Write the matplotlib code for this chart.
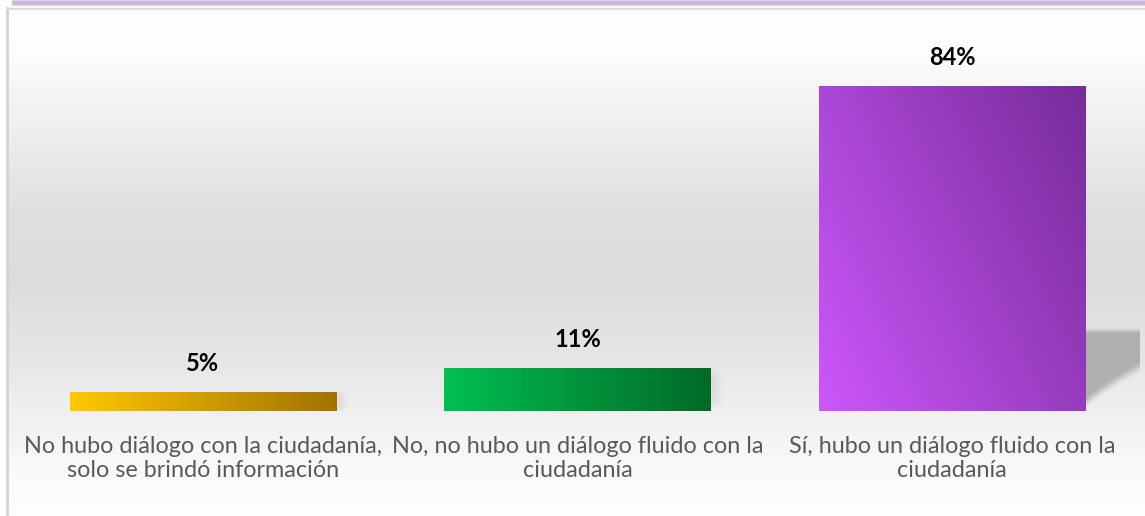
import numpy as np
import matplotlib.pyplot as plt
from matplotlib.colors import LinearSegmentedColormap

categories = ["No hubo diálogo con la ciudadanía,\nsolo se brindó información",
              "No, no hubo un diálogo fluido con la\nciudadanía",
              "Sí, hubo un diálogo fluido con la\nciudadanía"]
values = [5, 11, 84]
value_labels = ["5%", "11%", "84%"]
# (light, dark) ends of each bar gradient
bar_colors = [("#ffc800", "#a27300"),
              ("#00c052", "#006a27"),
              ("#cc57fb", "#772c99")]

W, H = 1145, 516
fig = plt.figure(figsize=(W / 100, H / 100), dpi=100)


def smooth(t):
    t = np.clip(t, 0, 1)
    return t * t * (3 - 2 * t)


# background: white -> gray -> white, with frame and purple top strip
bg = fig.add_axes([0, 0, 1, 1])
bg.set_xlim(0, W)
bg.set_ylim(H, 0)
bg.axis("off")
ys = np.linspace(0, 1, 400)
prof = np.interp(8 + ys * (H - 8), [8, 50, 100, 170, 210, 280, 340, 420, 480, 516],
                 [1.0, 0.995, 0.955, 0.905, 0.875, 0.865, 0.89, 0.945, 0.985, 0.995])
img = np.repeat(prof[:, None], 2, axis=1)
bg.imshow(np.dstack([img, img, img]), extent=[7, W, H, 8], aspect="auto",
          interpolation="bilinear", zorder=0)
strip = np.linspace(0, 1, 8)
scol = np.array([0.80, 0.70, 0.87])
sprof = 1 - (1 - scol)[None, :] * np.sin(np.pi * strip)[:, None] ** 0.6
bg.imshow(sprof[:, None, :], extent=[12, W, 7.5, 0], aspect="auto",
          interpolation="bilinear", zorder=1)
bg.plot([6.5, 6.5], [8, H], color="#d2d2d2", lw=2, zorder=2)
bg.plot([6.5, W], [8.5, 8.5], color="#dcdcdc", lw=1.5, zorder=2)

# main axes: centers at 203, 578, 952 px; baseline at y=411 px
x0 = 15.5
ax = fig.add_axes([x0 / W, 105 / H, 1124 / W, 387 / H])
ax.patch.set_alpha(0)
ax.set_xlim(-0.5, 2.5)
ax.set_ylim(0, 100)
ax.axis("off")

x = np.arange(len(categories))
bars = ax.bar(x, values, width=0.71, color="none", zorder=3)

for i, (b, (c_light, c_dark)) in enumerate(zip(bars, bar_colors)):
    bx, by = b.get_x(), b.get_y()
    bw, bh = b.get_width(), b.get_height()
    cmap = LinearSegmentedColormap.from_list("g%d" % i, [c_light, c_dark])
    gx, gy = np.meshgrid(np.linspace(0, 1, 200), np.linspace(0, 1, 200))
    if i == 2:
        grad = 0.75 * gx + 0.45 * gy
        grad = grad / grad.max()
        # soft perspective shadow to the right of the tall bar
        sw, shh = 0.155, 21.5
        u, v = np.meshgrid(np.linspace(0, 1, 120), np.linspace(0, 1, 120))
        edge = 0.47 * u ** 0.85
        a = smooth((v - edge) / 0.16) * smooth((1 - v) / 0.08) * smooth((1 - u) / 0.04)
        a = 0.88 * a
        sh = np.full_like(u, 0.66)
        ax.imshow(np.dstack([sh, sh, sh, a]), extent=[bx + bw, bx + bw + sw, by, by + shh],
                  aspect="auto", origin="lower", interpolation="bilinear", zorder=2)
    else:
        grad = gx
        # faint blur right of the short bars
        u, v = np.meshgrid(np.linspace(0, 1, 40), np.linspace(0, 1, 40))
        a = 0.18 * smooth((1 - u) / 0.8) * smooth(v / 0.3) * smooth((1 - v) / 0.3)
        sh = np.full_like(u, 0.6)
        ax.imshow(np.dstack([sh, sh, sh, a]), extent=[bx + bw, bx + bw + 0.035, by - 0.5, by + bh + 0.5],
                  aspect="auto", origin="lower", interpolation="bilinear", zorder=2)
    im = ax.imshow(grad, cmap=cmap, extent=[bx, bx + bw, by, by + bh],
                   origin="lower", aspect="auto", zorder=4)
    im.set_clip_path(b)
    ax.text(bx + bw / 2, bh + 7.4, value_labels[i], ha="center",
            va="center", fontsize=17, fontweight="bold", color="#000000",
            family="Lato")
    ax.text(bx + bw / 2, -6.4, categories[i], ha="center", va="top",
            fontsize=16.8, color="#595959", family="Lato",
            linespacing=1.2)

ax.set_xlim(-0.5, 2.5)
ax.set_ylim(0, 100)

fig.savefig("out.png", dpi=100)
